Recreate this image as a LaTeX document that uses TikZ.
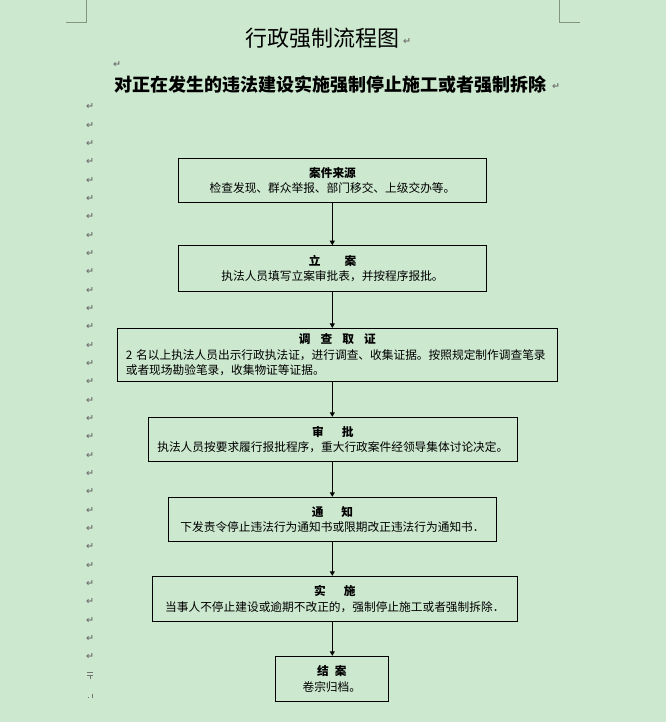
\documentclass[tikz,border=0pt]{standalone}
\usepackage{fontspec}
\setmainfont{Noto Sans CJK SC}
\newfontfamily\symfont{DejaVu Sans}
\usetikzlibrary{arrows.meta}
\definecolor{bg}{RGB}{204,232,207}
\definecolor{markgray}{RGB}{115,115,115}
\definecolor{cornergray}{RGB}{130,148,130}
\tikzset{
  box/.style={draw=black, line width=1pt, inner sep=0pt, align=center,
    font=\fontsize{11.7}{15.5}\selectfont},
  arr/.style={line width=1pt, -{Triangle[length=4.5pt,width=5pt]}},
  pmark/.style={inner sep=0pt, text=markgray, font=\symfont\bfseries\fontsize{9.5}{9.5}\selectfont},
  corner/.style={draw=cornergray, line width=1.2pt}
}
\begin{document}
\begin{tikzpicture}[x=1pt,y=-1pt]
\useasboundingbox (0,0) rectangle (666,722);
\fill[bg] (0,0) rectangle (666,722);
% crop corners
\draw[corner] (86.3,0) -- (86.3,22.3) -- (66,22.3);
\draw[corner] (559.3,0) -- (559.3,22.3) -- (580,22.3);
% title
\node[inner sep=0pt] (title) at (322.5,38) {\fontsize{22}{22}\selectfont 行政强制流程图};
\node[pmark] (tmark) at (407,42) {↵};
\node[pmark] (emark) at (117,65) {↵};
\node[inner sep=0pt, anchor=west] (sub) at (114.5,85) {\bfseries\fontsize{18}{18}\selectfont 对正在发生的违法建设实施强制停止施工或者强制拆除};
\node[pmark] (smark) at (556,87) {↵};
% margin paragraph marks
\foreach \i in {0,...,30}{
  \node[pmark] (m\i) at (90,{107+18.33*\i}) {↵};
}
\draw[markgray, line width=0.9pt] (87.3,672) -- (92.7,672) (87.3,675.3) -- (92.7,675.3) (90,675.3) -- (90,679);
\draw[markgray, line width=0.9pt] (87.5,697) -- (88.5,697) (92,693.5) -- (92,697.5);
% boxes
\node[box, minimum width=308.4pt, minimum height=44pt] (b1) at (332.5,180.3)
  {{\bfseries 案件来源}\\检查发现、群众举报、部门移交、上级交办等。};
\node[box, minimum width=308.4pt, minimum height=45.6pt] (b2) at (332.5,268.5)
  {{\bfseries 立\hspace{24pt}案}\\执法人员填写立案审批表，并按程序报批。};
\node[box, minimum width=440pt, minimum height=53pt, text width=423pt, align=left] (b3) at (337.3,354.9)
  {\makebox[423pt][c]{\bfseries 调\hspace{10pt}查\hspace{10pt}取\hspace{10pt}证}\\2 名以上执法人员出示行政执法证，进行调查、收集证据。按照规定制作调查笔录\\或者现场勘验笔录，收集物证等证据。};
\node[box, minimum width=369pt, minimum height=44pt] (b4) at (332.8,439.3)
  {{\bfseries 审\hspace{18pt}批}\\执法人员按要求履行报批程序，重大行政案件经领导集体讨论决定。};
\node[box, minimum width=328.4pt, minimum height=44pt] (b5) at (332.5,519.3)
  {{\bfseries 通\hspace{18pt}知}\\下发责令停止违法行为通知书或限期改正违法行为通知书．};
\node[box, minimum width=365pt, minimum height=45pt] (b6) at (334.8,598.8)
  {{\bfseries 实\hspace{18pt}施}\\当事人不停止建设或逾期不改正的，强制停止施工或者强制拆除．};
\node[box, minimum width=113pt, minimum height=45pt] (b7) at (331.8,678.8)
  {{\bfseries 结\hspace{6pt}案}\\卷宗归档。};
% connectors
\coordinate (axis) at (332.3,0);
\draw[arr] (b1.south -| axis) -- (b2.north -| axis);
\draw[arr] (b2.south -| axis) -- (b3.north -| axis);
\draw[arr] (b3.south -| axis) -- (b4.north -| axis);
\draw[arr] (b4.south -| axis) -- (b5.north -| axis);
\draw[arr] (b5.south -| axis) -- (b6.north -| axis);
\draw[arr] (b6.south -| axis) -- (b7.north -| axis);
\end{tikzpicture}
\end{document}
